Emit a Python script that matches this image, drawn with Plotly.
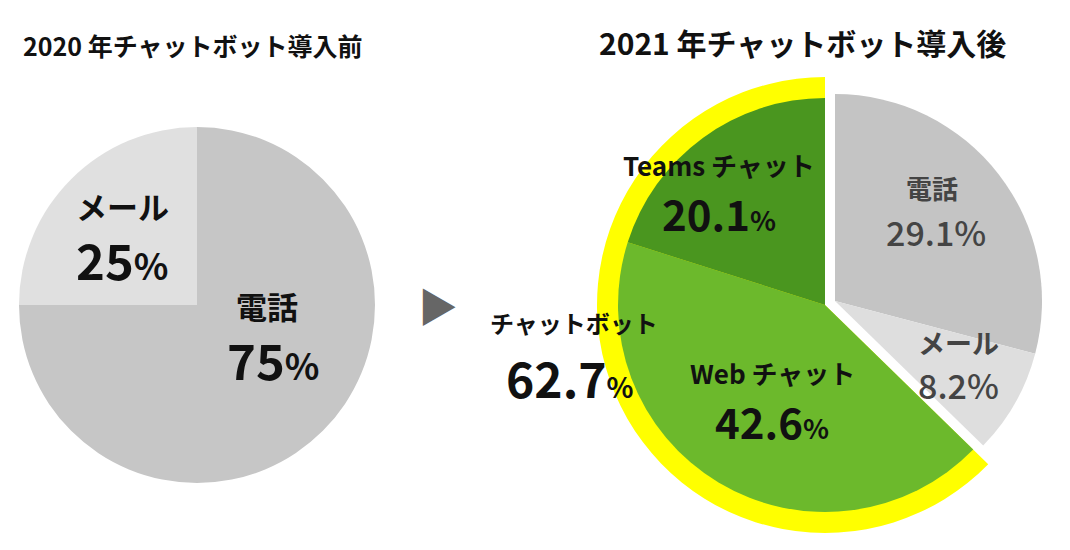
import plotly.graph_objects as go

# page has an 8px body margin, so the figure is the window minus 16px
OFF = 8
W, H = 1070 - 2 * OFF, 550 - 2 * OFF

# 2020 (before chatbot)
before_labels = ["電話", "メール"]
before_values = [75, 25]
before_colors = ["#c6c6c6", "#e0e0e0"]

# 2021 (after chatbot)
after_labels = ["電話", "メール", "Web チャット", "Teams チャット"]
after_values = [29.1, 8.2, 42.6, 20.1]
after_colors = ["#c4c4c4", "#dedede", "#6cb92c", "#4a961f"]
is_chatbot = [False, False, True, True]
chatbot_label = "チャットボット"

title_before = "2020 年チャットボット導入前"
title_after = "2021 年チャットボット導入後"

FONT = "Noto Sans CJK JP"


def dom(cx, cy, r):
    # window pixel centre/radius -> paper domain
    cx, cy = cx - OFF, cy - OFF
    return dict(x=[(cx - r) / W, (cx + r) / W],
                y=[(H - cy - r) / H, (H - cy + r) / H])


def pie(values, colors, domain):
    return go.Pie(values=values, marker=dict(colors=colors, line=dict(width=0)),
                  sort=False, direction="clockwise", rotation=0,
                  textinfo="none", hoverinfo="skip", showlegend=False,
                  domain=domain)


chat_total = round(sum(v for v, c in zip(after_values, is_chatbot) if c), 1)
other_total = round(sum(v for v, c in zip(after_values, is_chatbot) if not c), 1)

fig = go.Figure()
fig.add_trace(pie(before_values, before_colors, dom(197, 305, 178)))
# yellow ring behind the chatbot slices
fig.add_trace(pie([other_total, chat_total], ["rgba(0,0,0,0)", "#ffff00"], dom(825, 305, 228)))
# chatbot slices
fig.add_trace(pie(after_values, [c if b else "rgba(0,0,0,0)" for c, b in zip(after_colors, is_chatbot)],
                  dom(825, 305, 207)))
# other slices, pulled out together
fig.add_trace(pie(after_values, [c if not b else "rgba(0,0,0,0)" for c, b in zip(after_colors, is_chatbot)],
                  dom(835, 301, 207)))


def pct(v, small):
    return f"{v:g}<span style='font-size:{small}px'>%</span>"


def note(text, x, y, size, color="#111111", weight="bold"):
    fig.add_annotation(text=text, x=(x - OFF) / W, y=1 - (y - OFF) / H,
                       xref="paper", yref="paper",
                       showarrow=False, xanchor="center", yanchor="middle",
                       font=dict(family=FONT, size=size, color=color, weight=weight))


note(title_before, 192, 45, 25)
note(title_after, 802, 42, 30)

# left labels
note(before_labels[1], 122, 205, 31)
note(pct(before_values[1], 36), 122, 258, 49)
note(before_labels[0], 267, 305, 31)
note(pct(before_values[0], 36), 273, 358, 49)

# arrow
note("▶", 438, 305, 40, color="#666666", weight="normal")

# right labels
note(after_labels[3], 719, 165, 26)
note(pct(after_values[3], 27), 719, 213, 42)
note(after_labels[2], 772, 372, 26)
note(pct(after_values[2], 27), 772, 420, 42)
note(after_labels[0], 932, 187, 26, color="#444444")
note(f"{after_values[0]:g}%", 936, 231, 34, color="#444444", weight=500)
note(after_labels[1], 958, 342, 27, color="#444444")
note(f"{after_values[1]:g}%", 958, 384, 34, color="#444444", weight=500)
note(chatbot_label, 574, 322, 24)
note(pct(chat_total, 28), 570, 377, 48)

fig.update_layout(width=W, height=H, margin=dict(l=0, r=0, t=0, b=0),
                  paper_bgcolor="white", plot_bgcolor="white")
fig.write_html("out.html")
